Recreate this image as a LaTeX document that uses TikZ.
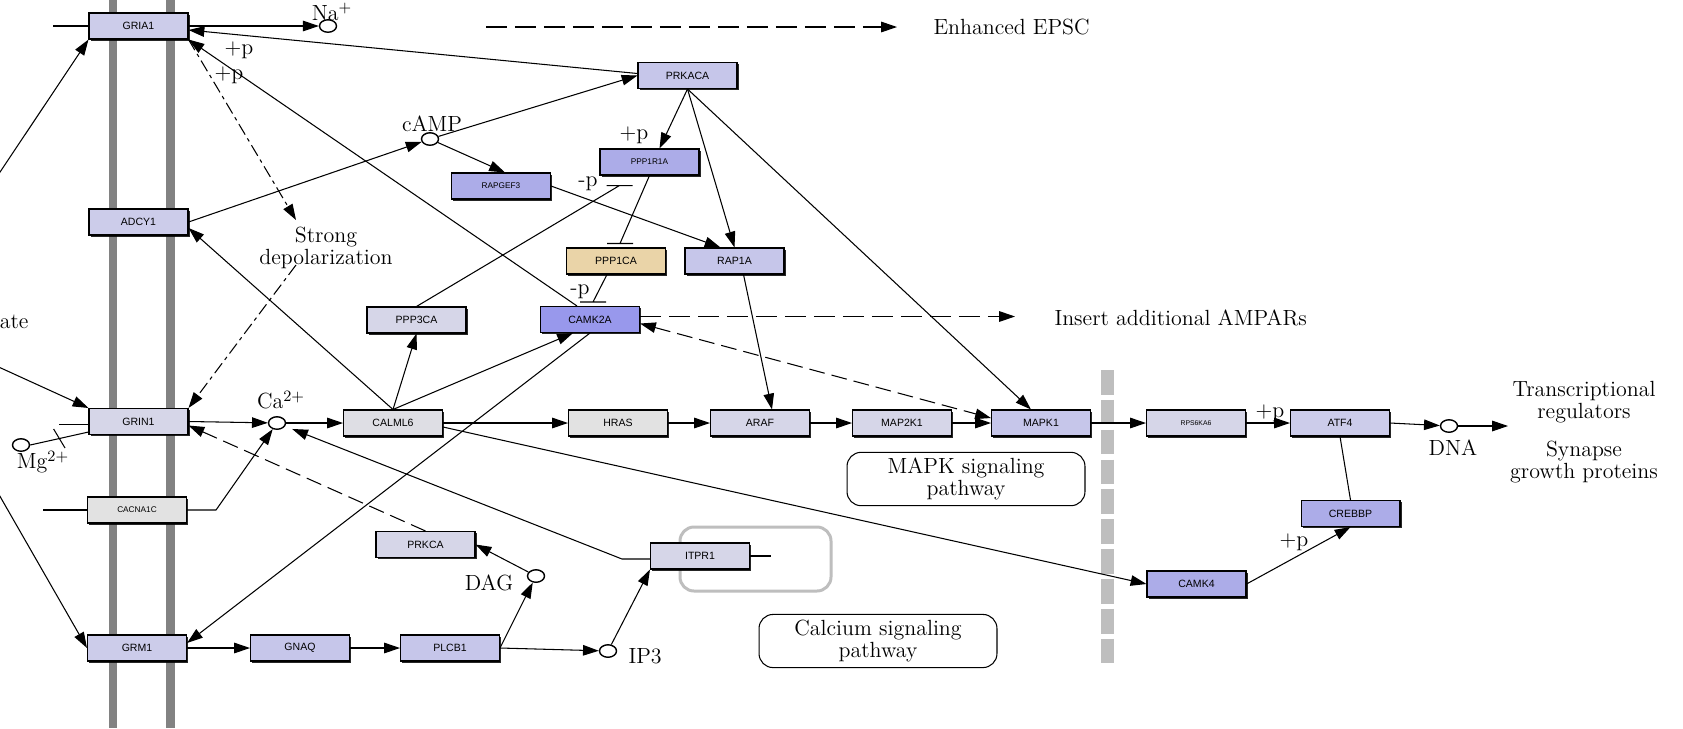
\documentclass[tikz,border=0pt]{standalone}
\usepackage{fontspec}
\setsansfont{Liberation Sans}
\usetikzlibrary{arrows.meta,calc,shapes.geometric,shadows,decorations.markings}

\definecolor{memgray}{RGB}{130,130,130}
\definecolor{divgray}{RGB}{190,190,190}
\definecolor{gLav}{RGB}{204,204,234}
\definecolor{gMid}{RGB}{198,198,234}
\definecolor{gPale}{RGB}{214,214,232}
\definecolor{gDeep}{RGB}{172,172,232}
\definecolor{gCam}{RGB}{152,152,236}
\definecolor{gGray}{RGB}{226,226,226}
\definecolor{gLight}{RGB}{222,222,228}
\definecolor{gTan}{RGB}{234,212,168}

\begin{document}
\begin{tikzpicture}[
    x=0.02cm, y=-0.02cm, line width=0.6pt,
    >={Triangle[length=9pt,width=6pt]},
    gene/.style={draw, fill=#1, minimum width=1.98cm, minimum height=0.52cm, inner sep=0pt,
      font=\sffamily\fontsize{6}{7}\selectfont,
      drop shadow={shadow xshift=1.1pt, shadow yshift=-1.1pt, fill=black, opacity=0.85}},
    fine/.style={font=\sffamily\fontsize{4.7}{5}\selectfont},
    cpd/.style={ellipse, draw, fill=white, line width=0.8pt, minimum width=0.34cm,
      minimum height=0.25cm, inner sep=0pt},
    lbl/.style={font=\fontsize{12.5}{10}\selectfont, inner sep=0pt, align=center},
    mapbox/.style={draw, rounded corners=8pt, minimum width=4.76cm, minimum height=1.04cm,
      align=center, font=\fontsize{12.5}{10}\selectfont},
    hbar/.style={to path={-- (\tikztotarget) ++(-13,0) -- ++(26,0)}},
    dsh/.style={dash pattern=on 9pt off 4pt},
    longdsh/.style={dash pattern=on 12pt off 4.5pt},
    dotdsh/.style={dash pattern=on 7pt off 2.5pt on 2pt off 2.5pt}
]
    \useasboundingbox (0,0) rectangle (1683,728);
    \clip (0,0) rectangle (1683,728);
    \fill[white] (0,0) rectangle (1683,728);

    % Membrane and nucleus border
    \draw[memgray, line width=4.7pt] (113,0) -- (113,728);
    \draw[memgray, line width=4.7pt] (170.5,0) -- (170.5,728);
    \draw[divgray, line width=7pt, dash pattern=on 14pt off 3pt] (1107.5,370) -- (1107.5,665);
    \draw[divgray, line width=1.7pt, rounded corners=8pt] (680,527) rectangle (831,591);

    % Genes
    \node[gene=gLav] (gria1) at (138.5,26) {GRIA1};
    \node[gene=gLav] (adcy1) at (138.5,222) {ADCY1};
    \node[gene=gPale] (grin1) at (138.5,421.5) {GRIN1};
    \node[gene=gGray, fine] (cacna1c) at (137,510) {CACNA1C};
    \node[gene=gLav] (grm1) at (137,648) {GRM1};
    \node[gene=gMid] (gnaq) at (300,648) {GNAQ};
    \node[gene=gMid] (plcb1) at (450,648) {PLCB1};
    \node[gene=gPale] (prkca) at (425.5,544.5) {PRKCA};
    \node[gene=gPale] (itpr1) at (700,556) {ITPR1};
    \node[gene=gLight] (calml6) at (393,423) {CALML6};
    \node[gene=gPale] (ppp3ca) at (416.5,320) {PPP3CA};
    \node[gene=gCam] (camk2a) at (590,319.5) {CAMK2A};
    \node[gene=gTan] (ppp1ca) at (616,261) {PPP1CA};
    \node[gene=gMid] (rap1a) at (734.5,261) {RAP1A};
    \node[gene=gDeep, fine] (ppp1r1a) at (649.5,162) {PPP1R1A};
    \node[gene=gDeep, fine] (rapgef3) at (501,186) {RAPGEF3};
    \node[gene=gMid] (prkaca) at (687.5,75.5) {PRKACA};
    \node[gene=gGray] (hras) at (618,423) {HRAS};
    \node[gene=gPale] (araf) at (760,423) {ARAF};
    \node[gene=gPale] (map2k1) at (902,423) {MAP2K1};
    \node[gene=gMid] (mapk1) at (1041,423) {MAPK1};
    \node[gene=gPale, font=\sffamily\fontsize{3.9}{4}\selectfont] (rps6ka6) at (1196,423) {RPS6KA6};
    \node[gene=gLav] (atf4) at (1340,423) {ATF4};
    \node[gene=gDeep] (crebbp) at (1350.5,513.5) {CREBBP};
    \node[gene=gDeep] (camk4) at (1196.5,584) {CAMK4};

    % Compounds
    \node[cpd] (na) at (328,26) {};
    \node[cpd] (camp) at (430,139) {};
    \node[cpd] (ca) at (277,423) {};
    \node[cpd] (mg) at (21,445) {};
    \node[cpd] (dag) at (536,576) {};
    \node[cpd] (ip3) at (608,651) {};
    \node[cpd] (dna) at (1449,426) {};
    \coordinate (glu) at (-100,322);

    % Labels
    \node[lbl] at (332,12) {Na$^{+}$};
    \node[lbl] at (432,124) {cAMP};
    \node[lbl] at (281,400) {Ca$^{2+}$};
    \node[lbl] at (43,462) {Mg$^{2+}$};
    \node[lbl] at (489,583) {DAG};
    \node[lbl, anchor=west] at (628,656) {IP3};
    \node[lbl] at (1453,448) {DNA};
    \node[lbl, anchor=east] at (29,322) {ate};
    \node[lbl, anchor=west] (epsc) at (933,27) {Enhanced EPSC};
    \node[lbl, anchor=west] (ampar) at (1054,318) {Insert additional AMPARs};
    \node[lbl] (trans) at (1584,402) {Transcriptional\\regulators};
    \node[lbl] at (1584,462) {Synapse\\growth proteins};
    \node[lbl] (depol) at (326,248) {Strong\\depolarization};
    \coordinate (depolin) at (296,220);
    \coordinate (depolout) at (296,265);
    \coordinate (epscin) at (486,27);
    \coordinate (amparin) at ($(camk2a.east)+(0,-3)$);
    \node[lbl] at (239,50) {+p};
    \node[lbl] at (229,75) {+p};
    \node[lbl] at (634,135) {+p};
    \node[lbl] at (588,184) {-p};
    \node[lbl] at (580,292) {-p};
    \node[lbl] at (1270,413) {+p};
    \node[lbl] at (1294,542) {+p};

    % Pathway maps
    \node[mapbox] (mapkmap) at (966,479) {MAPK signaling\\pathway};
    \node[mapbox] (camap) at (878,641) {Calcium signaling\\pathway};

    % Receptors and stubs
    \draw[->] (glu) -- (gria1.south west);
    \draw[->] (glu) -- (grin1.north west);
    \draw[->] (glu) -- (grm1.west);
    \draw (gria1.west) -- ++(-35,0);
    \draw ($(grin1.west)+(0,3)$) -- ++(-29,0);
    \draw (cacna1c.west) -- ++(-44,0);
    \draw (itpr1.east) -- ++(21,0);
    \draw[postaction={decorate}, decoration={markings,
        mark=at position 0.5 with {\draw (-2pt,6pt) -- (2pt,-6pt);}}]
        (mg.east) -- ($(grin1.south west)+(0,-3)$);

    % AMPA side
    \draw[->] (gria1.east) -- (na);
    \draw[->, longdsh, shorten >=0.72cm] (epscin) -- (epsc.west);
    \draw[->] ($(prkaca.west)+(0,-2)$) -- ($(gria1.east)+(0,4)$);
    \draw[->] ($(camk2a.north)+(-13,0)$) -- (gria1.south east);
    \draw[->, dotdsh] (gria1.south east) -- (depolin);
    \draw[->, dotdsh] (depolout) -- (grin1.north east);

    % cAMP / PKA
    \draw[->] (adcy1.east) -- (camp);
    \draw[->] (camp) -- (prkaca.west);
    \draw[->] (camp) -- ($(rapgef3.north)+(4,0)$);
    \draw[->] (prkaca.south) -- ($(ppp1r1a.north)+(10,0)$);
    \draw[->] (prkaca.south) -- (rap1a.north);
    \draw[->] (prkaca.south) -- ($(mapk1.north)+(-10,0)$);
    \draw[->] (rapgef3.east) -- ($(rap1a.north west)+(36,0)$);
    \draw[->] ($(rap1a.south)+(9,0)$) -- ($(araf.north)+(12,0)$);

    % Phosphatases
    \draw (ppp3ca.north) to[hbar] ($(ppp1r1a.south)+(-30,10)$);
    \draw (ppp1r1a.south) to[hbar] ($(ppp1ca.north)+(4,-4)$);
    \draw ($(ppp1ca.south)+(-9,0)$) to[hbar] ($(camk2a.north)+(3,-4)$);

    % Calcium
    \draw[->] (grin1.east) -- (ca);
    \draw[->] (ca) -- (calml6.west);
    \draw[->] (cacna1c.east) -- ++(29,0) -- (ca);
    \draw[->, shorten >=0.15cm] ($(itpr1.west)+(0,3)$) -- ++(-28,0) -- (ca);
    \draw[->] (calml6.north) -- (ppp3ca.south);
    \draw[->] (calml6.north) -- ($(camk2a.south)+(-17,0)$);
    \draw[->] (calml6.north) -- ($(adcy1.east)+(0,6)$);
    \draw[->] (camk2a.south) -- ($(grm1.east)+(0,-5)$);
    \draw[->, longdsh, shorten >=0.78cm] (amparin) -- (amparin -| ampar.west);
    \draw[<->, dsh] ($(camk2a.east)+(0,4)$) -- ($(mapk1.west)+(0,-5)$);

    % MAPK cascade
    \draw[->] (calml6.east) -- (hras.west);
    \draw[->] ($(calml6.east)+(0,4)$) -- (camk4.west);
    \draw[->] (hras.east) -- (araf.west);
    \draw[->] (araf.east) -- (map2k1.west);
    \draw[->] (map2k1.east) -- (mapk1.west);
    \draw[->] (mapk1.east) -- (rps6ka6.west);
    \draw[->] (rps6ka6.east) -- (atf4.west);
    \draw[->] (atf4.east) -- (dna);
    \draw[->, shorten >=0.08cm] (dna.east) -- (dna.east -| trans.west);
    \draw (atf4.south) -- (crebbp.north);
    \draw[->] (camk4.east) -- (crebbp.south);

    % mGluR branch
    \draw[->] (grm1.east) -- (gnaq.west);
    \draw[->] (gnaq.east) -- (plcb1.west);
    \draw[->] (plcb1.east) -- (ip3);
    \draw[->] (plcb1.east) -- (dag);
    \draw[->] (dag) -- (prkca.east);
    \draw[->] (ip3) -- (itpr1.south west);
    \draw[->, dsh] (prkca.north) -- ($(grin1.east)+(0,4)$);
\end{tikzpicture}
\end{document}
